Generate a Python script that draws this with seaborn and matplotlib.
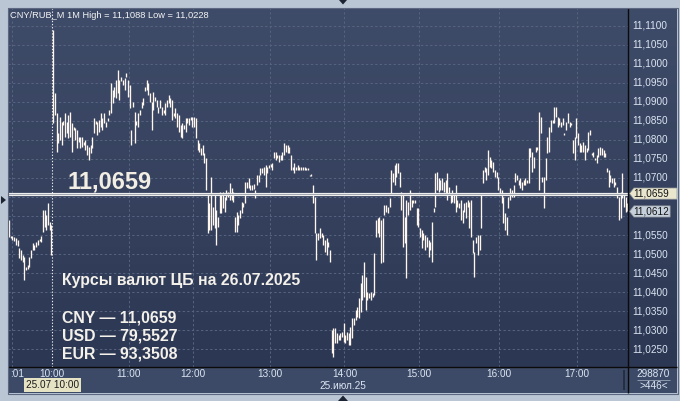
import numpy as np
import pandas as pd
import matplotlib
matplotlib.use("Agg")
import matplotlib.pyplot as plt
from matplotlib.colors import LinearSegmentedColormap
from matplotlib.lines import Line2D
from matplotlib.patches import Polygon
import seaborn as sns

# ---------------------------------------------------------------------------
# CNY/RUB_M, 1-minute bars as (high, low), grouped by trading hour
# ---------------------------------------------------------------------------
pre_session = [
    (11.0590, 11.0545), (11.0548, 11.0542), (11.0548, 11.0537), (11.0545, 11.0535),
    (11.0542, 11.0524), (11.0537, 11.0521), (11.0516, 11.0490), (11.0511, 11.0485),
    (11.0498, 11.0479), (11.0492, 11.0432), (11.0466, 11.0458), (11.0470, 11.0462),
    (11.0492, 11.0466), (11.0511, 11.0490), (11.0529, 11.0511), (11.0524, 11.0511),
    (11.0532, 11.0519), (11.0537, 11.0524), (11.0540, 11.0534), (11.0548, 11.0532),
    (11.0616, 11.0558), (11.0616, 11.0571), (11.0603, 11.0563), (11.0634, 11.0577),
    (11.0585, 11.0563), (11.0577, 11.0498),
]
hour_10 = [
    (11.1088, 11.0845), (11.0924, 11.0866), (11.0871, 11.0769), (11.0819, 11.0792),
    (11.0861, 11.0800), (11.0848, 11.0787), (11.0850, 11.0840), (11.0871, 11.0808),
    (11.0848, 11.0819), (11.0866, 11.0805), (11.0874, 11.0808), (11.0845, 11.0769),
    (11.0835, 11.0826), (11.0832, 11.0800), (11.0826, 11.0779), (11.0808, 11.0795),
    (11.0808, 11.0779), (11.0808, 11.0782), (11.0795, 11.0787), (11.0800, 11.0774),
    (11.0787, 11.0761), (11.0782, 11.0748), (11.0787, 11.0766), (11.0808, 11.0779),
    (11.0858, 11.0819), (11.0850, 11.0842), (11.0848, 11.0813), (11.0853, 11.0821),
    (11.0871, 11.0834), (11.0858, 11.0826), (11.0871, 11.0845), (11.0848, 11.0834),
    (11.0858, 11.0850), (11.0879, 11.0866), (11.0950, 11.0871), (11.0932, 11.0898),
    (11.0940, 11.0913), (11.0958, 11.0911), (11.0984, 11.0924), (11.0958, 11.0905),
    (11.0966, 11.0955), (11.0958, 11.0945), (11.0963, 11.0932), (11.0976, 11.0966),
    (11.0958, 11.0913),
]
hour_11 = [
    (11.0945, 11.0884), (11.0826, 11.0787), (11.0900, 11.0887), (11.0874, 11.0792),
    (11.0850, 11.0840), (11.0871, 11.0834), (11.0879, 11.0866), (11.0900, 11.0884),
    (11.0911, 11.0892), (11.0940, 11.0930), (11.0958, 11.0932), (11.0950, 11.0919),
    (11.0924, 11.0900), (11.0900, 11.0826), (11.0926, 11.0879), (11.0912, 11.0903),
    (11.0905, 11.0887), (11.0887, 11.0871), (11.0905, 11.0884), (11.0887, 11.0866),
    (11.0880, 11.0872), (11.0898, 11.0866), (11.0905, 11.0887), (11.0919, 11.0898),
    (11.0911, 11.0887), (11.0905, 11.0853), (11.0870, 11.0862), (11.0884, 11.0858),
    (11.0871, 11.0834), (11.0866, 11.0821), (11.0840, 11.0808), (11.0845, 11.0805),
    (11.0840, 11.0830), (11.0858, 11.0821), (11.0858, 11.0845), (11.0858, 11.0840),
    (11.0861, 11.0853), (11.0861, 11.0834),
]
hour_12 = [
    (11.0861, 11.0834), (11.0858, 11.0805), (11.0800, 11.0774), (11.0792, 11.0769),
    (11.0779, 11.0761), (11.0787, 11.0761), (11.0766, 11.0740), (11.0753, 11.0669),
    (11.0661, 11.0556), (11.0634, 11.0563), (11.0703, 11.0563), (11.0624, 11.0577),
    (11.0656, 11.0569), (11.0616, 11.0524), (11.0598, 11.0571), (11.0663, 11.0608),
    (11.0661, 11.0608), (11.0663, 11.0621), (11.0650, 11.0611), (11.0669, 11.0642),
    (11.0663, 11.0650), (11.0687, 11.0642), (11.0674, 11.0642), (11.0663, 11.0637),
    (11.0598, 11.0558), (11.0611, 11.0558), (11.0603, 11.0577), (11.0616, 11.0595),
    (11.0637, 11.0608), (11.0634, 11.0624), (11.0690, 11.0634), (11.0690, 11.0674),
    (11.0700, 11.0674), (11.0682, 11.0669), (11.0682, 11.0669), (11.0684, 11.0671),
    (11.0669, 11.0648), (11.0708, 11.0682), (11.0708, 11.0690), (11.0727, 11.0708),
    (11.0727, 11.0713), (11.0729, 11.0708), (11.0734, 11.0677), (11.0729, 11.0713),
    (11.0734, 11.0727),
]
hour_13 = [
    (11.0736, 11.0729), (11.0740, 11.0721), (11.0769, 11.0753), (11.0769, 11.0748),
    (11.0761, 11.0753), (11.0761, 11.0742), (11.0761, 11.0748), (11.0769, 11.0748),
    (11.0792, 11.0761), (11.0787, 11.0769), (11.0787, 11.0766), (11.0782, 11.0766),
    (11.0761, 11.0721), (11.0729, 11.0721), (11.0740, 11.0713), (11.0729, 11.0721),
    (11.0734, 11.0721), (11.0729, 11.0721), (11.0729, 11.0721), (11.0729, 11.0721),
    (11.0729, 11.0721), (11.0727, 11.0721), (11.0727, 11.0721), (11.0708, 11.0705),
    (11.0711, 11.0705), (11.0682, 11.0634), (11.0650, 11.0556), (11.0556, 11.0485),
    (11.0556, 11.0537), (11.0569, 11.0542), (11.0556, 11.0545), (11.0550, 11.0524),
    (11.0537, 11.0506), (11.0542, 11.0498), (11.0532, 11.0519), (11.0511, 11.0479),
    (11.0301, 11.0240), (11.0306, 11.0228), (11.0306, 11.0266), (11.0293, 11.0266),
    (11.0287, 11.0274), (11.0293, 11.0274), (11.0295, 11.0282), (11.0319, 11.0269),
]
hour_14 = [
    (11.0287, 11.0266), (11.0295, 11.0274), (11.0293, 11.0261), (11.0308, 11.0261),
    (11.0332, 11.0279), (11.0332, 11.0314), (11.0353, 11.0327), (11.0361, 11.0335),
    (11.0385, 11.0332), (11.0424, 11.0348), (11.0445, 11.0379), (11.0479, 11.0387),
    (11.0440, 11.0353), (11.0400, 11.0379), (11.0398, 11.0385), (11.0400, 11.0379),
    (11.0398, 11.0387), (11.0503, 11.0393), (11.0590, 11.0545), (11.0595, 11.0556),
    (11.0598, 11.0545), (11.0590, 11.0477), (11.0595, 11.0479), (11.0629, 11.0603),
    (11.0629, 11.0611), (11.0624, 11.0608), (11.0648, 11.0624), (11.0721, 11.0661),
    (11.0713, 11.0690), (11.0734, 11.0682), (11.0740, 11.0703), (11.0740, 11.0713),
    (11.0716, 11.0677), (11.0663, 11.0616), (11.0656, 11.0519), (11.0598, 11.0529),
    (11.0642, 11.0437), (11.0637, 11.0603), (11.0669, 11.0616), (11.0642, 11.0624),
    (11.0642, 11.0634), (11.0642, 11.0634), (11.0621, 11.0577), (11.0621, 11.0571),
]
hour_15 = [
    (11.0569, 11.0545), (11.0563, 11.0516), (11.0556, 11.0537), (11.0550, 11.0511),
    (11.0545, 11.0519), (11.0537, 11.0492), (11.0532, 11.0511), (11.0585, 11.0479),
    (11.0621, 11.0611), (11.0713, 11.0624), (11.0716, 11.0669), (11.0700, 11.0663),
    (11.0695, 11.0669), (11.0700, 11.0669), (11.0690, 11.0663), (11.0695, 11.0656),
    (11.0713, 11.0642), (11.0677, 11.0661), (11.0661, 11.0634), (11.0669, 11.0637),
    (11.0656, 11.0634), (11.0682, 11.0611), (11.0642, 11.0624), (11.0634, 11.0621),
    (11.0642, 11.0590), (11.0616, 11.0582), (11.0634, 11.0611), (11.0637, 11.0595),
    (11.0642, 11.0624), (11.0637, 11.0569), (11.0642, 11.0545), (11.0537, 11.0503),
    (11.0506, 11.0440), (11.0545, 11.0529), (11.0550, 11.0498), (11.0550, 11.0511),
    (11.0661, 11.0569), (11.0721, 11.0687), (11.0729, 11.0716), (11.0727, 11.0695),
    (11.0774, 11.0708), (11.0756, 11.0729), (11.0748, 11.0727), (11.0742, 11.0716),
    (11.0721, 11.0703), (11.0716, 11.0700), (11.0703, 11.0669),
]
hour_16 = [
    (11.0674, 11.0661), (11.0669, 11.0634), (11.0650, 11.0582), (11.0608, 11.0563),
    (11.0598, 11.0550), (11.0650, 11.0621), (11.0674, 11.0642), (11.0669, 11.0650),
    (11.0682, 11.0650), (11.0713, 11.0690), (11.0708, 11.0695), (11.0695, 11.0682),
    (11.0700, 11.0674), (11.0690, 11.0669), (11.0695, 11.0682), (11.0700, 11.0682),
    (11.0695, 11.0687), (11.0779, 11.0687), (11.0779, 11.0756), (11.0769, 11.0716),
    (11.0756, 11.0727), (11.0782, 11.0769), (11.0782, 11.0774), (11.0874, 11.0669),
    (11.0861, 11.0819), (11.0703, 11.0690), (11.0703, 11.0621), (11.0753, 11.0695),
    (11.0808, 11.0766), (11.0834, 11.0769), (11.0853, 11.0821), (11.0853, 11.0845),
    (11.0887, 11.0845), (11.0887, 11.0861), (11.0861, 11.0834), (11.0858, 11.0840),
    (11.0848, 11.0834), (11.0858, 11.0840), (11.0819, 11.0813), (11.0848, 11.0826),
    (11.0871, 11.0845), (11.0848, 11.0834), (11.0845, 11.0840), (11.0800, 11.0766),
    (11.0808, 11.0748), (11.0858, 11.0805),
]
hour_17 = [
    (11.0819, 11.0787), (11.0792, 11.0769), (11.0787, 11.0769), (11.0795, 11.0769),
    (11.0787, 11.0748), (11.0779, 11.0769), (11.0821, 11.0774), (11.0826, 11.0813),
    (11.0766, 11.0761), (11.0769, 11.0756), (11.0753, 11.0748), (11.0761, 11.0740),
    (11.0779, 11.0756), (11.0782, 11.0761), (11.0779, 11.0761), (11.0774, 11.0756),
    (11.0766, 11.0756), (11.0727, 11.0716), (11.0721, 11.0677), (11.0708, 11.0690),
    (11.0700, 11.0687), (11.0700, 11.0677), (11.0690, 11.0682), (11.0677, 11.0648),
    (11.0650, 11.0590), (11.0663, 11.0595), (11.0713, 11.0648), (11.0661, 11.0624),
    (11.0650, 11.0611), (11.0634, 11.0612),
]

hour_labels = ["10:00", "11:00", "12:00", "13:00", "14:00", "15:00", "16:00", "17:00"]
price_levels = [11.0250 + 0.005 * i for i in range(18)]

cb_rate = 11.0659
last_price = 11.0612
header = "CNY/RUB_M 1M High = 11,1088 Low = 11,0228"
cb_title = "Курсы валют ЦБ на 26.07.2025"
cb_lines = ["CNY — 11,0659", "USD — 79,5527", "EUR — 93,3508"]
session_label = "25.07 10:00"
date_label = "25.июл.25"
volume_label = "298870"
bars_label = ">446<"

# ---------------------------------------------------------------------------
W, H = 680, 401
BAR = "#fff6ee"
AXIS_TXT = "#dbe5f2"
GRID = "#56637f"
FS_AXIS = 7.2


def fx(x):
    return x / W


def fy(y):
    return 1 - y / H


def fmt(v):
    return f"{v:.4f}".replace(".", ",")


sns.set_theme(style="white")
plt.rcParams["font.family"] = ["Liberation Sans", "DejaVu Sans"]
plt.rcParams["lines.solid_capstyle"] = "butt"

segments = [pre_session, hour_10, hour_11, hour_12, hour_13,
            hour_14, hour_15, hour_16, hour_17]
bars = [b for seg in segments for b in seg]
n = len(bars)
hour_pos = list(np.cumsum([len(s) for s in segments])[:-1] - 0.5)

df = pd.DataFrame({
    "bar": np.repeat(np.arange(n), 2),
    "price": [v for hi, lo in bars for v in (lo, hi)],
})

fig = plt.figure(figsize=(W / 100, H / 100), dpi=100, facecolor="#bac6d4")

# gradient background behind price panel + right scale
bg = fig.add_axes([fx(8), fy(367), fx(669), 359 / H], zorder=0)
grad = LinearSegmentedColormap.from_list("bg", ["#3f4c69", "#2c3753"])
bg.imshow(np.linspace(0, 1, 256)[:, None], cmap=grad, aspect="auto",
          extent=(0, 1, 0, 1))
bg.axis("off")

ylim = (11.0203, 11.1147)
xlim = (-0.6, n - 0.6)

ax = fig.add_axes([fx(8), fy(367), fx(620), 359 / H], zorder=1)
ax.set_facecolor("none")
sns.lineplot(data=df, x="bar", y="price", units="bar", estimator=None,
             color=BAR, lw=0.95, ax=ax, legend=False, zorder=3)
ax.set_xlim(*xlim)
ax.set_ylim(*ylim)
ax.set_xlabel("")
ax.set_ylabel("")
ax.set_yticks(price_levels)
ax.set_xticks([1.5] + hour_pos[1:])
ax.grid(True, color=GRID, lw=0.75, ls=(0, (2.2, 2.2)))
ax.tick_params(length=0, labelbottom=False, labelleft=False)
for s in ax.spines.values():
    s.set_visible(False)

# session start (10:00) dotted line
ax.axvline(hour_pos[0], color="#e8e8e8", lw=0.8, ls=(0, (1.2, 1.6)), zorder=2)

# CB rate line (double line)
ax.axhline(cb_rate, color="#eeeeee", lw=2.3, zorder=4)
ax.axhline(cb_rate, color="#8d929c", lw=0.55, zorder=5)

ax.text(0.0960, 0.497, fmt(cb_rate), transform=ax.transAxes, fontsize=17,
        fontweight="bold", color="#f2eee4", va="baseline", zorder=6)
ax.text(0.0871, 0.2284, cb_title, transform=ax.transAxes, fontsize=11.4,
        fontweight="bold", color="#f4f1ea", va="baseline", zorder=6)
for i, line in enumerate(cb_lines):
    ax.text(0.0871, 0.1253 - i * 0.0515, line, transform=ax.transAxes,
            fontsize=11.4, fontweight="bold", color="#f4f1ea", va="baseline", zorder=6)

# right price scale (levels hidden under the price tags are not printed)
ax_r = fig.add_axes([fx(628), fy(367), fx(49), 359 / H], zorder=1)
ax_r.set_facecolor("none")
ax_r.set_ylim(*ylim)
ax_r.set_xlim(0, 1)
ax_r.axis("off")
px_price = (ylim[1] - ylim[0]) / 359
half = 5.6 * px_price
for v in price_levels:
    if min(abs(v - cb_rate), abs(v - last_price)) < 2 * half:
        continue
    ax_r.text(0.08, v, fmt(v), fontsize=FS_AXIS, color=AXIS_TXT, va="center")

for level, fc, right in [(cb_rate, "#e9e6cd", 1.0), (last_price, "#c6d0dc", 0.86)]:
    ax_r.add_patch(Polygon([(0.03, level), (0.12, level + half), (right, level + half),
                            (right, level - half), (0.12, level - half)],
                           closed=True, fc=fc, ec="#8a8f96", lw=0.5, zorder=3))
    ax_r.text(0.10, level, fmt(level), fontsize=FS_AXIS, color="#141414",
              va="center", zorder=4)

# time axis
ax_b = fig.add_axes([fx(8), fy(393), fx(620), 26 / H], zorder=1)
ax_b.set_facecolor("#3d4a67")
ax_b.set_xlim(*xlim)
ax_b.set_ylim(0, 1)
ax_b.axis("off")
ax_b.add_artist(ax_b.patch)
for pos, lab in zip(hour_pos, hour_labels):
    ax_b.text(pos, 0.73, lab, fontsize=FS_AXIS, color=AXIS_TXT, ha="center", va="center")
ax_b.text(0.003, 0.73, ":01", transform=ax_b.transAxes, fontsize=FS_AXIS,
          color=AXIS_TXT, va="center")
ax_b.text(hour_pos[0], 0.30, session_label, fontsize=FS_AXIS, color="#1a1a1a",
          ha="center", va="center",
          bbox=dict(boxstyle="square,pad=0.18", fc="#e6e2c4", ec="none"))
ax_b.text(hour_pos[4] - 1, 0.27, date_label, fontsize=FS_AXIS, color=AXIS_TXT,
          ha="center", va="center")
ax_b.plot([0.993, 0.993], [0.12, 0.88], transform=ax_b.transAxes,
          color="#222a3a", lw=1.2)

ax_br = fig.add_axes([fx(628), fy(393), fx(49), 26 / H], zorder=1)
ax_br.set_facecolor("#3d4a67")
ax_br.axis("off")
ax_br.add_artist(ax_br.patch)
ax_br.text(0.52, 0.73, volume_label, fontsize=FS_AXIS, color=AXIS_TXT,
           ha="center", va="center", transform=ax_br.transAxes)
ax_br.plot([0.18, 0.86], [0.5, 0.5], transform=ax_br.transAxes,
           color="#9aa6b8", lw=0.6)
ax_br.text(0.52, 0.27, bars_label, fontsize=FS_AXIS, color=AXIS_TXT,
           ha="center", va="center", transform=ax_br.transAxes)

# frame / separators
fig.add_artist(Line2D([fx(628), fx(628)], [fy(8), fy(393)], color="#0b0b0b", lw=1.0))
fig.add_artist(Line2D([fx(8), fx(677)], [fy(367), fy(367)], color="#0b0b0b", lw=1.0))
fig.add_artist(Line2D([fx(7.5), fx(677.5), fx(677.5), fx(7.5), fx(7.5)],
                      [fy(7.5), fy(7.5), fy(393.5), fy(393.5), fy(7.5)],
                      color="#5d6880", lw=0.8))

# little scroll markers on the outer border
for pts in ([(1, 196), (1, 204), (6, 200)],
            [(339, 0), (347, 0), (343, 4.5)],
            [(338, 401), (348, 401), (343, 395.5)]):
    fig.add_artist(Polygon([(fx(x), fy(y)) for x, y in pts], closed=True,
                           transform=fig.transFigure, fc="#1c2333", ec="none"))

fig.text(fx(10), fy(18), header, fontsize=6.7, color="#f4f4f4", va="baseline")

fig.savefig("out.png", dpi=100, facecolor=fig.get_facecolor())
